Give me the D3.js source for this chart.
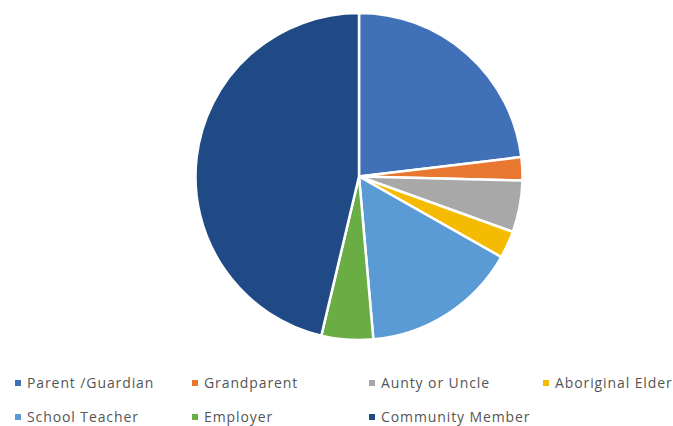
<!DOCTYPE html>
<html>
<head>
<meta charset="utf-8">
<script src="https://cdn.jsdelivr.net/npm/d3@7"></script>
<style>
  html, body { margin: 0; padding: 0; background: #ffffff; }
  svg { display: block; }
  .legend text { font-family: "Open Sans", "Liberation Sans", sans-serif; font-size: 14px; fill: #555555; letter-spacing: 0.9px; }
</style>
</head>
<body>
<svg id="chart" width="673" height="426"></svg>
<script>
// Who respondents named, share of responses (%)
const categories = ["Parent /Guardian", "Grandparent", "Aunty or Uncle", "Aboriginal Elder",
                    "School Teacher", "Employer", "Community Member"];
const values = [23.1, 2.3, 5.1, 2.7, 15.4, 5.1, 46.3];
const colors = ["#4070b8", "#e8782f", "#a8a8a8", "#f5bb00", "#5b9bd5", "#6aad45", "#1f4a86"];

const width = 673, height = 426;
const cx = 359, cy = 176.5, radius = 163.5;

const svg = d3.select("#chart");

const pie = d3.pie().sort(null).value(d => d.value);
const arc = d3.arc().innerRadius(0).outerRadius(radius);

const data = categories.map((c, i) => ({ name: c, value: values[i], color: colors[i] }));

svg.append("g")
  .attr("transform", `translate(${cx},${cy})`)
  .selectAll("path")
  .data(pie(data))
  .join("path")
  .attr("d", arc)
  .attr("fill", d => d.data.color)
  .attr("stroke", "#ffffff")
  .attr("stroke-width", 2.5)
  .attr("stroke-linejoin", "round");

// Legend: two rows, four columns
const colX = [15, 192, 369, 543];
const rowY = [383, 417];
const legend = svg.append("g").attr("class", "legend");
const items = legend.selectAll("g")
  .data(data)
  .join("g")
  .attr("transform", (d, i) => `translate(${colX[i % 4]},${rowY[Math.floor(i / 4)]})`);
items.append("rect")
  .attr("x", 0).attr("y", -3)
  .attr("width", 6).attr("height", 6)
  .attr("fill", d => d.color);
items.append("text")
  .attr("x", 12).attr("y", 0)
  .attr("dy", "0.35em")
  .text(d => d.name);
</script>
</body>
</html>
